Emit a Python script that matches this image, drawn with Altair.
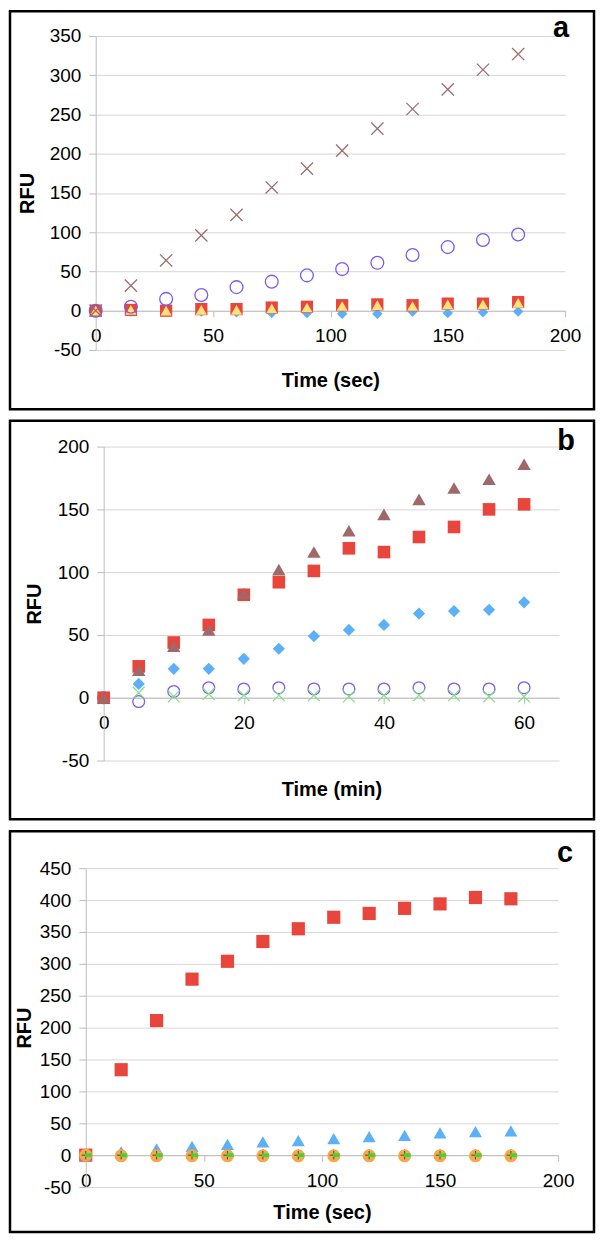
import altair as alt
import pandas as pd

# ---------------- data ----------------
times_a = [0, 15, 30, 45, 60, 75, 90, 105, 120, 135, 150, 165, 180]
a_cross = [0, 32, 64, 96, 122, 157, 181, 204, 232, 257, 282, 307, 327]
a_circle = [0, 5, 15, 20, 30, 37, 45, 53, 61, 71, 81, 90, 97]
a_square = [0, 1, 0, 2, 2, 4, 5, 7, 8, 7, 9, 9, 11]
a_triangle = [0, 1, 0, 1, 1, 3, 4, 6, 7, 6, 8, 8, 10]
a_diamond = [0, -1, -1, -1, -2, -3, -3, -4, -4, -1, -3, -2, -1]

times_b = [0, 5, 10, 15, 20, 25, 30, 35, 40, 45, 50, 55, 60]
b_triangle = [0, 22, 41, 54, 83, 102, 116, 133, 146, 158, 167, 174, 186]
b_square = [0, 25, 44, 58, 82, 92, 101, 119, 116, 128, 136, 150, 154]
b_diamond = [0, 11, 23, 23, 31, 39, 49, 54, 58, 67, 69, 70, 76]
b_circle = [0, -3, 5, 8, 7, 8, 7, 7, 7, 8, 7, 7, 8]
b_cross = [0, 4, 1, 3, 2, 2, 2, 1, 2, 2, 2, 1, 1]

times_c = [0, 15, 30, 45, 60, 75, 90, 105, 120, 135, 150, 165, 180]
c_square = [0, 134, 211, 276, 304, 335, 355, 373, 379, 387, 394, 404, 402]
c_triangle = [0, 5, 10, 14, 17, 21, 23, 26, 29, 31, 35, 37, 38]
c_purple = [0, 2, 2, 2, 2, 2, 2, 2, 2, 2, 2, 2, 2]
c_circle = [0, -1, -1, -1, -1, -1, -1, -1, -1, -1, -1, -1, -1]
c_plus = [0, 0, 0, 0, 0, 0, 0, 0, 0, 0, 0, 0, 0]
c_dash = [0, 0, 0, 0, 0, 0, 0, 0, 0, 0, 0, 0, 0]

ticks_a_x = [0, 50, 100, 150, 200]
ticks_a_y = [-50, 0, 50, 100, 150, 200, 250, 300, 350]
ticks_b_x = [0, 20, 40, 60]
ticks_b_y = [-50, 0, 50, 100, 150, 200]
ticks_c_x = [0, 50, 100, 150, 200]
ticks_c_y = [-50, 0, 50, 100, 150, 200, 250, 300, 350, 400, 450]

# ---------------- style ----------------
FONT = "Liberation Sans"
GRID = "#D6D6D6"
AXC = "#BDBDBD"
X_SHAPE = "M-1,-1L1,1M-1,1L1,-1"
PLUS_SHAPE = "M-1,0L1,0M0,-1L0,1"
DASH_SHAPE = "M-0.15,-0.3L1,-0.3L1,0.3L-0.15,0.3Z"
BORDER_X = (-76, 510)


def long_df(times, series):
    rows = []
    for name, vals in series.items():
        for t, v in zip(times, vals):
            rows.append({"t": t, "v": v, "s": name})
    return pd.DataFrame(rows)


def panel(df, layers, xdom, xvals, ydom, yvals, shift, w, h, xtitle,
          xtitle_y, ytitle_x, border_y, letter, letter_xy):
    y0 = h * (ydom[1] - 0) / (ydom[1] - ydom[0])
    xaxis = alt.Axis(values=xvals, offset=-(h - y0), grid=False,
                     domainColor=AXC, tickColor=AXC, tickSize=6,
                     labelPadding=10, labelFontSize=19, labelFont=FONT,
                     labelColor="black", labelFlush=False,
                     labelExpr="'' + datum.value",
                     title=xtitle, titleFont=FONT, titleFontSize=20,
                     titleFontWeight="bold", titleColor="black",
                     titleX=shift + w / 2, titleY=xtitle_y,
                     titleBaseline="middle", titleAlign="center")
    yaxis = alt.Axis(values=yvals, grid=True, gridColor=GRID, offset=-shift,
                     domainColor=AXC, tickColor=AXC, tickSize=7,
                     labelPadding=8, labelFontSize=19, labelFont=FONT,
                     labelColor="black", labelExpr="'' + datum.value",
                     title="RFU", titleFont=FONT, titleFontSize=20,
                     titleFontWeight="bold", titleColor="black",
                     titleX=ytitle_x, titleY=h / 2, titleBaseline="middle",
                     titleAlign="center")
    base = alt.Chart(df).encode(
        x=alt.X("t:Q", scale=alt.Scale(domain=xdom, nice=False,
                                       range=[shift, shift + w]), axis=xaxis),
        y=alt.Y("v:Q", scale=alt.Scale(domain=ydom, nice=False), axis=yaxis),
    )
    charts = []
    for name, kw in layers:
        charts.append(base.transform_filter(alt.datum.s == name).mark_point(**kw))
    one = pd.DataFrame({"k": [0]})
    frame = alt.Chart(one).mark_rect(fill="transparent", stroke="black",
                                     strokeWidth=2.5).encode(
        x=alt.value(BORDER_X[0]), x2=alt.value(BORDER_X[1]),
        y=alt.value(border_y[0]), y2=alt.value(border_y[1]))
    lab = alt.Chart(one).mark_text(text=letter, font=FONT, fontSize=29,
                                   fontWeight="bold", color="black",
                                   align="center", baseline="alphabetic").encode(
        x=alt.value(letter_xy[0]), y=alt.value(letter_xy[1]))
    return alt.layer(*charts, frame, lab).properties(width=shift + w, height=h)


def filled(shape, color, size):
    return dict(shape=shape, filled=True, color=color, size=size, opacity=1,
                strokeWidth=0)


def hollow(shape, color, size, sw=1.3):
    return dict(shape=shape, filled=False, color=color, size=size, opacity=1,
                strokeWidth=sw)


# ---------------- panel a ----------------
df_a = long_df(times_a, {"diamond": a_diamond, "square": a_square,
                         "triangle": a_triangle, "circle": a_circle,
                         "cross": a_cross})
pa = panel(
    df_a,
    [("diamond", filled("diamond", "#5BB0F8", 110)),
     ("square", filled("square", "#E8453C", 150)),
     ("triangle", filled("triangle-up", "#FFE27A", 125)),
     ("circle", hollow("circle", "#7A5AF0", 165, 1.3)),
     ("cross", hollow(X_SHAPE, "#9D6E6E", 150, 1.3))],
    [0, 200], ticks_a_x, [-50, 350], ticks_a_y, 10, 471, 315,
    "Time (sec)", 70, -68, (-24.75, 374.5), "a", (477, 1))

# ---------------- panel b ----------------
df_b = long_df(times_b, {"circle": b_circle, "cross": b_cross,
                         "diamond": b_diamond, "square": b_square,
                         "triangle": b_triangle})
pb = panel(
    df_b,
    [("circle", hollow("circle", "#7A5AF0", 140, 1.3)),
     ("cross", hollow(X_SHAPE, "#86DC86", 140, 1.3)),
     ("diamond", filled("diamond", "#5BB0F8", 150)),
     ("square", filled("square", "#E8453C", 160)),
     ("triangle", filled("triangle-up", "#A06868", 180))],
    [0, 65], ticks_b_x, [-50, 200], ticks_b_y, 18, 457, 315,
    "Time (min)", 92, -69, (-26, 374), "b", (482, 3))

# ---------------- panel c ----------------
df_c = long_df(times_c, {"square": c_square, "triangle": c_triangle,
                         "purple": c_purple, "circle": c_circle,
                         "plus": c_plus, "dash": c_dash})
pc = panel(
    df_c,
    [("square", filled("square", "#E8453C", 175)),
     ("triangle", filled("triangle-up", "#5CB0F6", 170)),
     ("purple", filled("triangle-up", "#8A5AE0", 140)),
     ("circle", filled("circle", "#F5A94A", 170)),
     ("plus", hollow(PLUS_SHAPE, "#5A4030", 70, 1.0)),
     ("dash", filled(DASH_SHAPE, "#3ED43E", 150))],
    [0, 200], ticks_c_x, [-50, 450], ticks_c_y, 0, 474, 320,
    "Time (sec)", 58, -61, (-37, 365), "c", (481, -6))

chart = alt.concat(pa, pb, pc, columns=1, spacing=8, align="none",
                   bounds="full", padding=0).configure_view(strokeWidth=0)

chart.save("out.html", embed_options={"renderer": "svg", "actions": False})
